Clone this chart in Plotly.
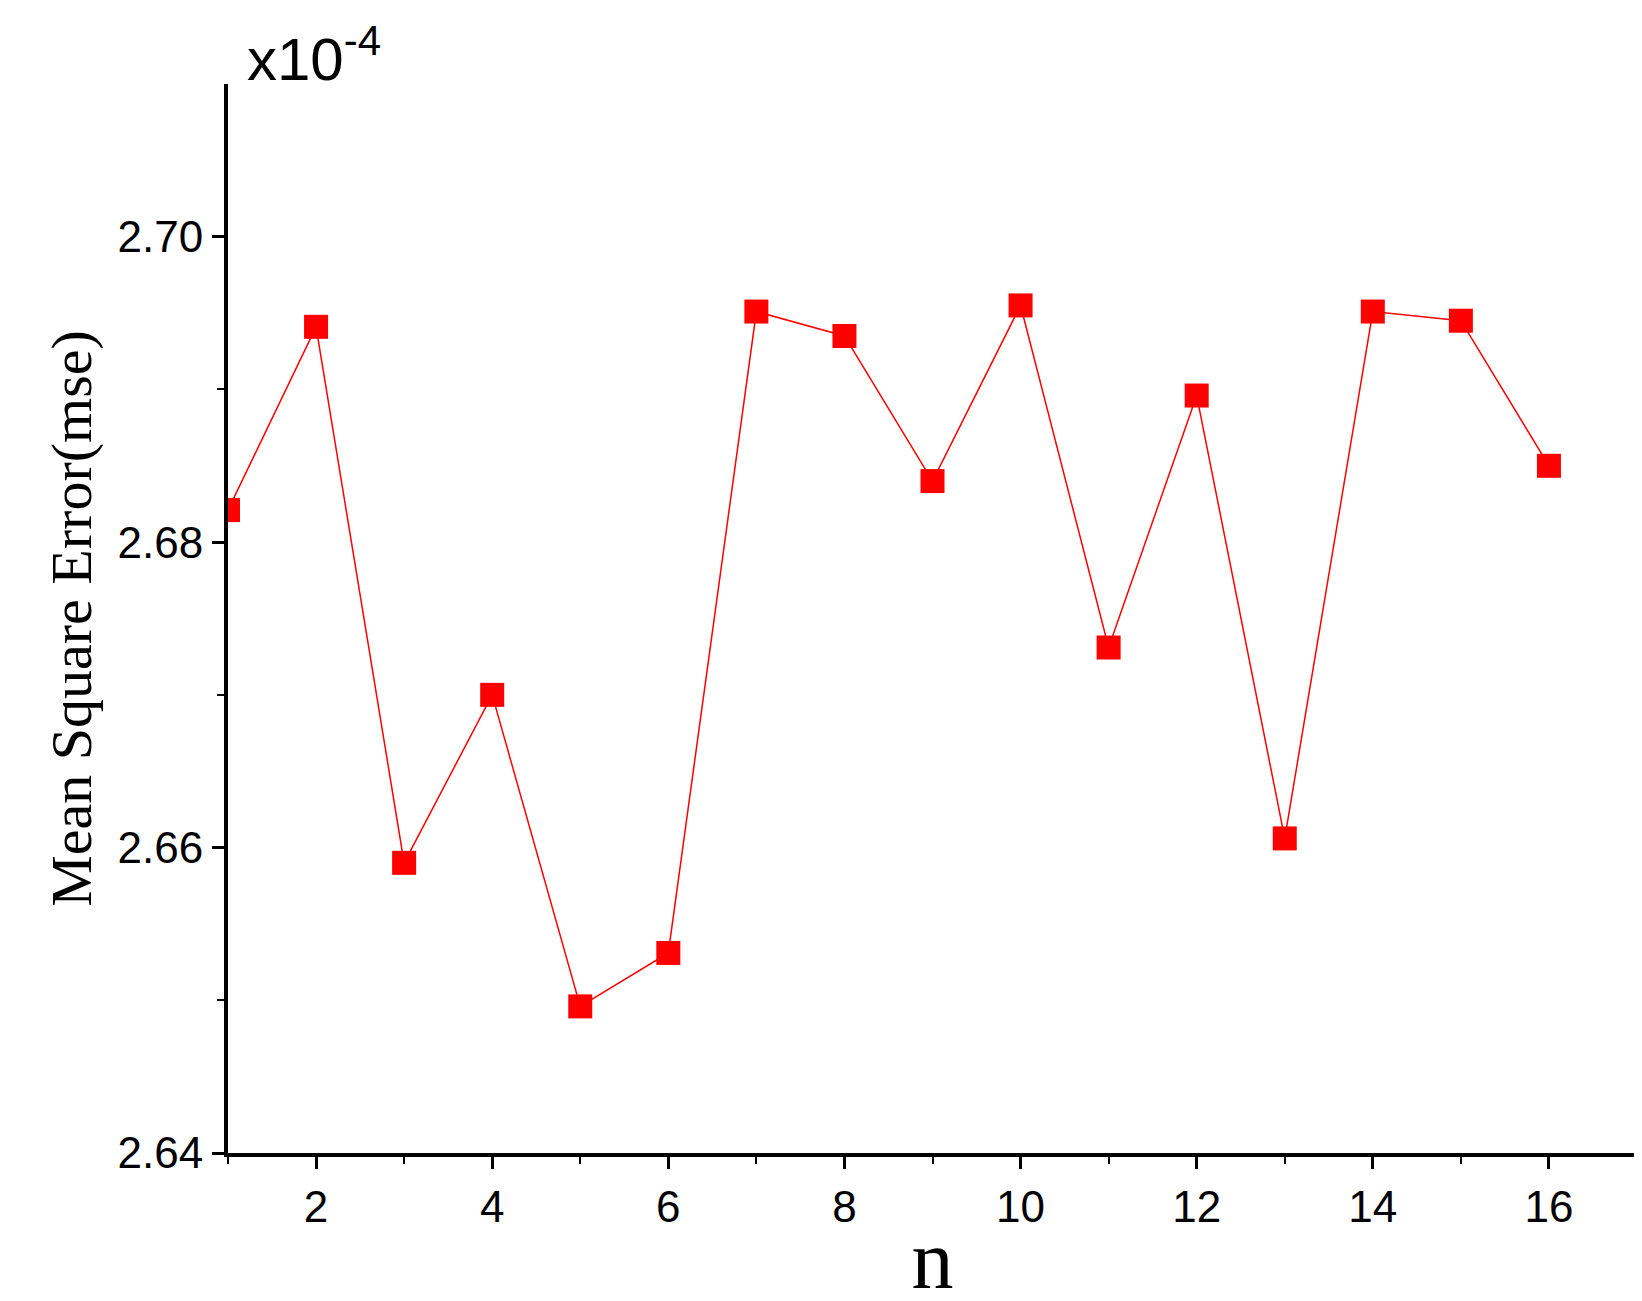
import plotly.graph_objects as go

n = list(range(1, 17))
mse = [2.6821, 2.6941, 2.6590, 2.6700, 2.6496, 2.6531, 2.6951, 2.6935,
       2.6840, 2.6955, 2.6731, 2.6896, 2.6606, 2.6951, 2.6945, 2.6850]

fig = go.Figure(go.Scatter(
    x=n, y=mse, mode="lines+markers",
    line=dict(color="red", width=1.5),
    marker=dict(symbol="square", size=24, color="red"),
))

fig.update_layout(
    width=1642, height=1301, showlegend=False,
    plot_bgcolor="white", paper_bgcolor="white",
    margin=dict(l=220, r=13, t=76, b=156),
    font=dict(family="Liberation Sans", size=44, color="black"),
)
fig.update_xaxes(
    range=[1, 17], tickvals=list(range(2, 17, 2)),
    showline=True, linecolor="black", linewidth=4, mirror=False,
    ticks="outside", ticklen=12, tickwidth=3, tickcolor="black",
    minor=dict(tickvals=list(range(1, 18, 2)), ticks="outside", ticklen=7, tickwidth=2, tickcolor="black"),
    showgrid=False, zeroline=False,
    title=dict(text="n", font=dict(family="Liberation Serif", size=84), standoff=0),
)
fig.update_yaxes(
    range=[2.64, 2.71], tickvals=[2.64, 2.66, 2.68, 2.70], tickformat=".2f",
    showline=True, linecolor="black", linewidth=4, mirror=False,
    ticks="outside", ticklen=12, tickwidth=3, tickcolor="black",
    minor=dict(tickvals=[2.65, 2.67, 2.69], ticks="outside", ticklen=7, tickwidth=2, tickcolor="black"),
    showgrid=False, zeroline=False,
    title=dict(text="Mean Square Error(mse)", font=dict(family="Liberation Serif", size=58), standoff=8),
)
fig.add_annotation(
    xref="paper", yref="paper", x=0.012, y=0.99, xanchor="left", yanchor="bottom",
    text="x10<sup>-4</sup>", showarrow=False,
    font=dict(family="Liberation Sans", size=60),
)

fig.write_html("out.html")
